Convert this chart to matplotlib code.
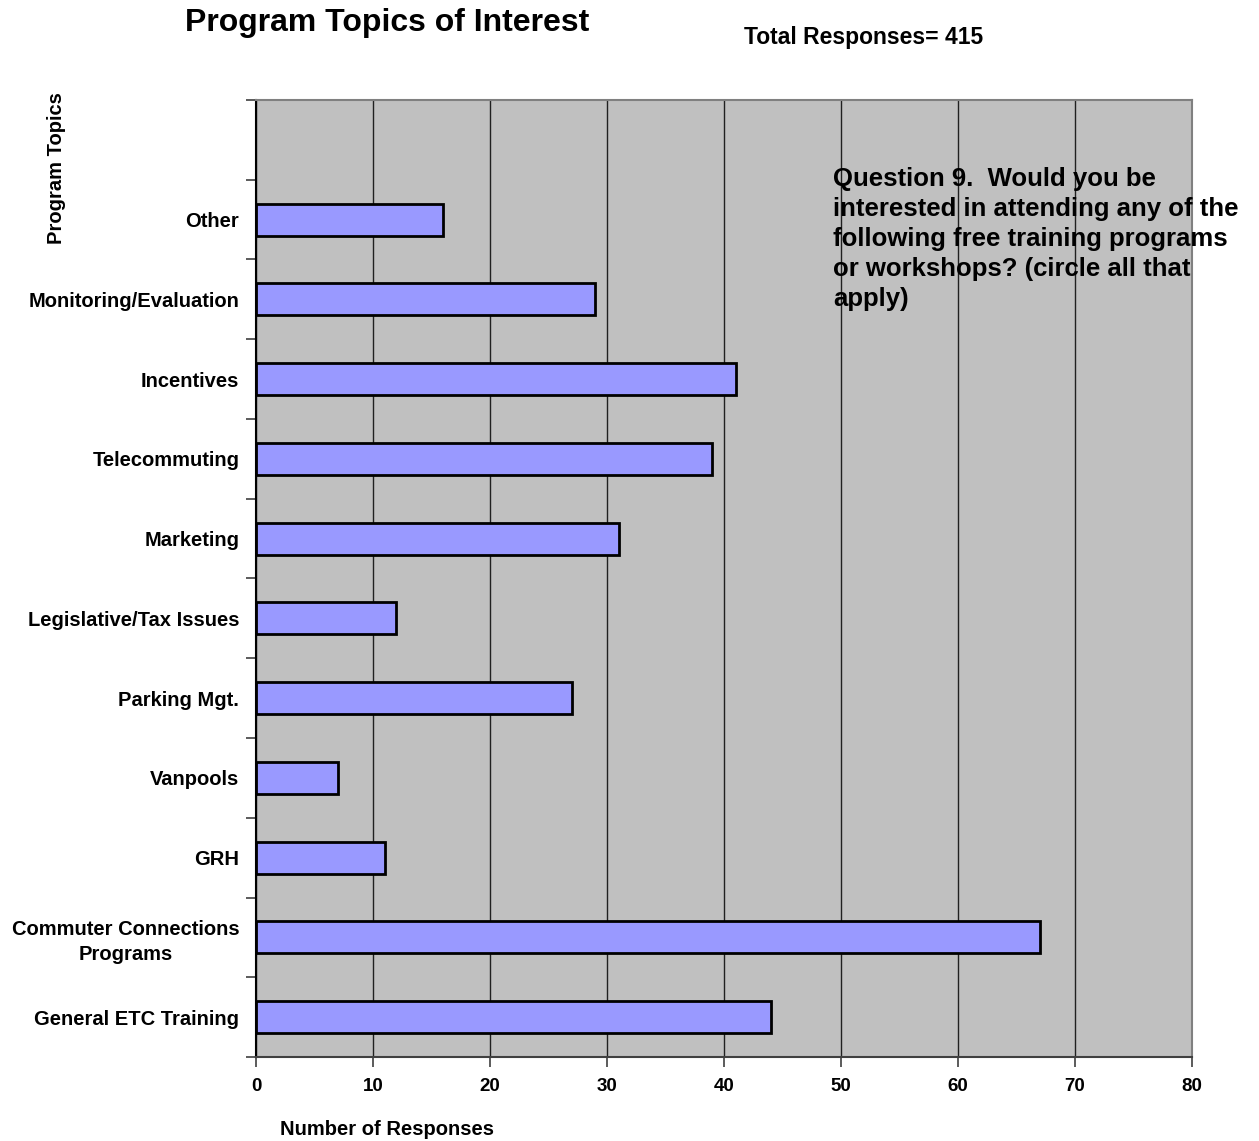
import matplotlib.pyplot as plt
import numpy as np

plt.rcParams["font.family"] = ["Liberation Sans", "DejaVu Sans"]
plt.rcParams["font.weight"] = "bold"

# bottom to top
topics = [
    "General ETC Training",
    "Commuter Connections\nPrograms",
    "GRH",
    "Vanpools",
    "Parking Mgt.",
    "Legislative/Tax Issues",
    "Marketing",
    "Telecommuting",
    "Incentives",
    "Monitoring/Evaluation",
    "Other",
]
responses = [44, 67, 11, 7, 27, 12, 31, 39, 41, 29, 16]
x_ticks = [0, 10, 20, 30, 40, 50, 60, 70, 80]

question = (
    "Question 9.  Would you be\n"
    "interested in attending any of the\n"
    "following free training programs\n"
    "or workshops? (circle all that\n"
    "apply)"
)

fig = plt.figure(figsize=(12.59, 11.41), dpi=100)
ax = fig.add_axes([0.2033, 0.0736, 0.7435, 0.8388])
ax.set_facecolor("#C0C0C0")

pos = np.arange(len(topics))
ax.barh(pos, responses, height=0.4, color="#9999FF", edgecolor="black",
        linewidth=2, zorder=3)

ax.set_xlim(0, 80)
ax.set_ylim(-0.5, len(topics) + 0.5)
ax.set_xticks(x_ticks)
ax.set_xticklabels([str(t) for t in x_ticks], fontsize=13.5, fontweight="bold")
ax.tick_params(axis="x", length=7, width=1.2, color="#404040", pad=8)
ax.xaxis.grid(True, color="#202020", linewidth=1, zorder=1)

ax.set_yticks(pos)
ax.set_yticklabels(topics, fontsize=14.5, fontweight="bold", linespacing=1.4,
                   multialignment="center")
ax.tick_params(axis="y", which="major", length=0, pad=12)
ax.set_yticks(np.arange(-0.5, len(topics) + 1), minor=True)
ax.tick_params(axis="y", which="minor", length=7, width=1.2, color="#404040")

for side in ["top", "right"]:
    ax.spines[side].set_color("#808080")
    ax.spines[side].set_linewidth(1.5)
ax.spines["left"].set_color("black")
ax.spines["left"].set_linewidth(1.5)
ax.spines["bottom"].set_color("#404040")
ax.spines["bottom"].set_linewidth(1.5)

fig.text(0.3073, 0.980, "Program Topics of Interest", fontsize=23,
         fontweight="bold", ha="center", va="center")
fig.text(0.686, 0.967, "Total Responses= 415", fontsize=16.5,
         fontweight="bold", ha="center", va="center")
fig.text(0.0445, 0.853, "Program Topics", fontsize=14.5, fontweight="bold",
         rotation=90, ha="center", va="center")
fig.text(0.3073, 0.0105, "Number of Responses", fontsize=14.5,
         fontweight="bold", ha="center", va="center")
fig.text(0.6615, 0.854, question, fontsize=18.5, fontweight="bold",
         ha="left", va="top", linespacing=1.32, zorder=5)

fig.savefig("out.png", dpi=100)
